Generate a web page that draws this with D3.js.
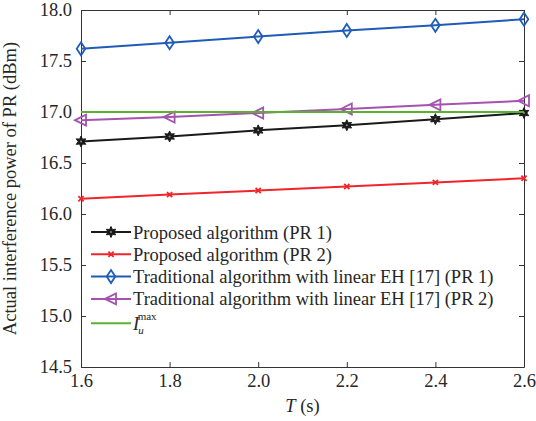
<!DOCTYPE html>
<html>
<head>
<meta charset="utf-8">
<script src="https://cdn.jsdelivr.net/npm/d3@7"></script>
<style>
	body { margin: 0; background: #fff; }
</style>
</head>
<body>
<svg id="chart" width="536" height="421"></svg>
<script>
const T = [1.6, 1.8, 2.0, 2.2, 2.4, 2.6];
const proposedPR1 = [16.71, 16.76, 16.82, 16.87, 16.93, 16.99];
const proposedPR2 = [16.15, 16.19, 16.23, 16.27, 16.31, 16.35];
const traditionalPR1 = [17.62, 17.68, 17.74, 17.80, 17.85, 17.91];
const traditionalPR2 = [16.92, 16.95, 16.99, 17.03, 17.07, 17.11];
const iMax = [17.0, 17.0, 17.0, 17.0, 17.0, 17.0];
const xTicks = [1.6, 1.8, 2.0, 2.2, 2.4, 2.6];
const yTicks = [14.5, 15.0, 15.5, 16.0, 16.5, 17.0, 17.5, 18.0];

const series = [
	{ name: 'Proposed algorithm (PR 1)', values: proposedPR1, color: '#1a1a1a', marker: 'star' },
	{ name: 'Proposed algorithm (PR 2)', values: proposedPR2, color: '#f0252b', marker: 'cross' },
	{ name: 'Traditional algorithm with linear EH [17] (PR 1)', values: traditionalPR1, color: '#1f5cb8', marker: 'diamond' },
	{ name: 'Traditional algorithm with linear EH [17] (PR 2)', values: traditionalPR2, color: '#a552b0', marker: 'triangle' },
	{ name: 'Imax', values: iMax, color: '#5ab031', marker: null },
];

const FONT = 'Liberation Serif';
const FS = 18.5;
const margin = { left: 81, right: 12, top: 10, bottom: 54 };
const svg = d3.select('#chart');
const width = 536 - margin.left - margin.right;
const height = 421 - margin.top - margin.bottom;

const xScale = d3.scaleLinear().domain([1.6, 2.6]).range([margin.left, margin.left + width]);
const yScale = d3.scaleLinear().domain([14.5, 18.0]).range([margin.top + height, margin.top]);

const axisColor = '#333';

// Box axes with inward ticks
const gAxes = svg.append('g');
const addAxis = (axis, transform) => {
	const g = gAxes.append('g').attr('transform', transform).call(axis);
	g.select('.domain').attr('stroke', axisColor);
	g.selectAll('.tick line').attr('stroke', axisColor);
	g.selectAll('text').attr('fill', '#262626').attr('font-family', FONT).attr('font-size', FS);
	return g;
};

addAxis(d3.axisBottom(xScale).tickValues(xTicks).tickFormat(d3.format('.1f'))
	.tickSizeInner(-5).tickSizeOuter(0).tickPadding(7), `translate(0,${margin.top + height})`);
addAxis(d3.axisTop(xScale).tickValues(xTicks).tickFormat('')
	.tickSizeInner(-5).tickSizeOuter(0), `translate(0,${margin.top})`);
addAxis(d3.axisLeft(yScale).tickValues(yTicks).tickFormat(d3.format('.1f'))
	.tickSizeInner(-5).tickSizeOuter(0).tickPadding(9), `translate(${margin.left},0)`);
addAxis(d3.axisRight(yScale).tickValues(yTicks).tickFormat('')
	.tickSizeInner(-5).tickSizeOuter(0), `translate(${margin.left + width},0)`);

// Marker drawing
function drawMarker(g, type, color, cx, cy) {
	if (type === 'star') {
		const pts = [];
		for (let i = 0; i < 12; i++) {
			const r = i % 2 === 0 ? 5.5 : 2.8;
			const a = -Math.PI / 2 + i * Math.PI / 6;
			pts.push([cx + r * Math.cos(a), cy + r * Math.sin(a)]);
		}
		g.append('polygon').attr('points', pts.map(p => p.join(',')).join(' '))
			.attr('fill', color).attr('stroke', color).attr('stroke-width', 1);
		g.append('circle').attr('cx', cx).attr('cy', cy).attr('r', 1).attr('fill', '#888');
	} else if (type === 'cross') {
		const s = 2.6;
		g.append('path').attr('d', `M${cx - s},${cy - s}L${cx + s},${cy + s}M${cx - s},${cy + s}L${cx + s},${cy - s}`)
			.attr('stroke', color).attr('stroke-width', 1.8);
	} else if (type === 'diamond') {
		g.append('path').attr('d', `M${cx},${cy - 6.5}L${cx + 4.3},${cy}L${cx},${cy + 6.5}L${cx - 4.3},${cy}Z`)
			.attr('fill', 'none').attr('stroke', color).attr('stroke-width', 1.8);
	} else if (type === 'triangle') {
		g.append('path').attr('d', `M${cx - 6},${cy}L${cx + 5},${cy - 5.5}L${cx + 5},${cy + 5.5}Z`)
			.attr('fill', 'none').attr('stroke', color).attr('stroke-width', 1.8);
	}
}

// Lines
const line = d3.line().x((d, i) => xScale(T[i])).y(d => yScale(d));
const gLines = svg.append('g');
series.forEach((s) => {
	gLines.append('path').datum(s.values).attr('d', line)
		.attr('fill', 'none').attr('stroke', s.color).attr('stroke-width', 2);
	if (s.marker) {
		s.values.forEach((v, i) => drawMarker(gLines, s.marker, s.color, xScale(T[i]), yScale(v)));
	}
});

// Legend
const gLegend = svg.append('g');
const legendX = 91;
const legendY = 232;
const rowH = 22.3;
series.forEach((s, i) => {
	const yy = legendY + i * rowH + (s.marker ? 0 : 2);
	gLegend.append('line').attr('x1', legendX).attr('x2', legendX + 40)
		.attr('y1', yy).attr('y2', yy).attr('stroke', s.color).attr('stroke-width', 2);
	if (s.marker) drawMarker(gLegend, s.marker, s.color, legendX + 20, yy);
	const t = gLegend.append('text').attr('x', legendX + 42).attr('y', yy + 6.5)
		.attr('font-family', FONT).attr('font-size', FS).attr('fill', '#262626');
	if (s.marker) {
		t.text(s.name);
	} else {
		t.append('tspan').attr('font-style', 'italic').text('I');
		t.append('tspan').attr('font-style', 'italic').attr('dy', 4).attr('dx', -1).attr('font-size', 11).text('u');
		t.append('tspan').attr('dx', -6).attr('dy', -14).attr('font-size', 11).text('max');
	}
});

// Axis titles
svg.append('text').attr('x', xScale(2.1)).attr('y', 412).attr('text-anchor', 'middle')
	.attr('font-family', FONT).attr('font-size', FS).attr('fill', '#262626')
	.call(t => {
		t.append('tspan').attr('font-style', 'italic').text('T');
		t.append('tspan').text(' (s)');
	});
svg.append('text').attr('transform', `translate(16,${yScale(16.25)}) rotate(-90)`)
	.attr('text-anchor', 'middle').attr('font-family', FONT).attr('font-size', FS).attr('fill', '#262626')
	.text('Actual interference power of PR (dBm)');
</script>
</body>
</html>
